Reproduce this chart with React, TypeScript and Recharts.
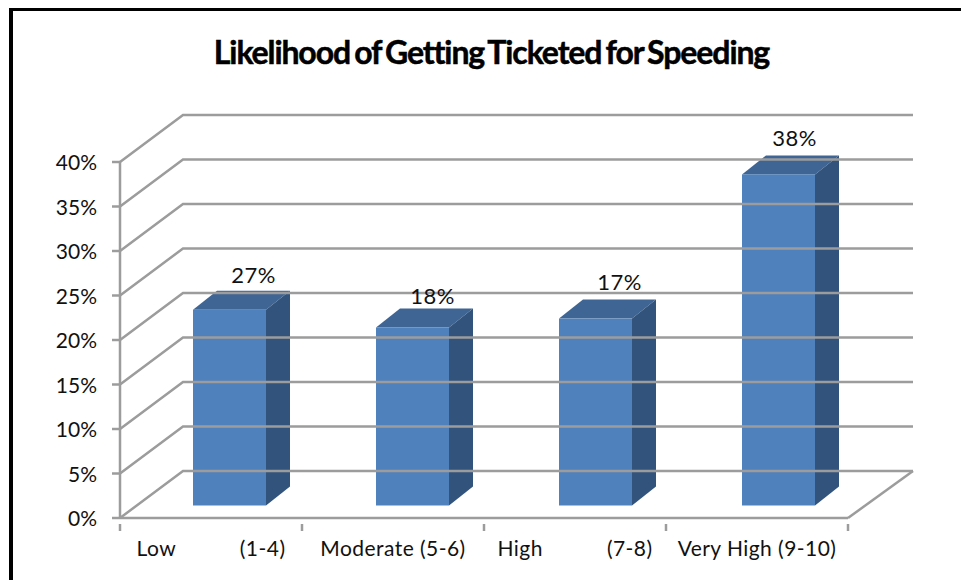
import { BarChart, Bar, XAxis, YAxis, LabelList } from "recharts";

const categories = ["Low           (1-4)", "Moderate (5-6)", "High           (7-8)", "Very High (9-10)"];
// bar heights as drawn in the picture, they do not agree with the printed labels
const barHeights = [22, 20, 21, 37.2];
const printedLabels = ["27%", "18%", "17%", "38%"];
const percentTicks = [0, 5, 10, 15, 20, 25, 30, 35, 40];

const tableData = categories.map((name, i) => ({ name, height: barHeights[i], label: printedLabels[i] }));

const FONT = "Lato, Carlito, sans-serif";
const GRID = "#9c9c9c";
const GRID_W = 2.5;
const FRONT = "#4f81bd";
const TOP = "#3e6594";
const SIDE = "#32537c";

const CHART_W = 961;
const CHART_H = 580;
const PLOT_LEFT = 120;
const PLOT_RIGHT = 848;
const STEP = (PLOT_RIGHT - PLOT_LEFT) / categories.length;

// 3D wall depth, and how far the bars sit in from the front of the floor
const WALL_DX = 63;
const WALL_DY = -47;
const BACK_RIGHT = 913;
const BAR_DX = 18;
const BAR_DRIFT = 1; // bars are spaced 1px wider than the axis ticks
const BAR_DY = -12.5;
const BAR_DEPTH_X = 24;
const BAR_DEPTH_Y = -19;

// small per-label shifts from the bar centre
const labelShiftX = [24, 20, 24, 16];
const labelShiftY = [-35, -32, -37, -36];

const PercentTick = ({ x, y, payload }: any) => {
  const left = x + 8;
  return (
    <g>
      <line x1={left - 8} y1={y} x2={left} y2={y} stroke={GRID} strokeWidth={GRID_W} />
      <polyline
        points={`${left},${y} ${left + WALL_DX},${y + WALL_DY} ${BACK_RIGHT},${y + WALL_DY}`}
        fill="none"
        stroke={GRID}
        strokeWidth={GRID_W}
      />
      {payload.value === 0 && (
        <line x1={PLOT_RIGHT} y1={y} x2={BACK_RIGHT} y2={y + WALL_DY} stroke={GRID} strokeWidth={GRID_W} />
      )}
      <text x={97} y={y + 8} textAnchor="end" fontFamily={FONT} fontSize={21} fill="#111">
        {payload.value}%
      </text>
    </g>
  );
};

const CategoryTick = ({ x, y, payload, index }: any) => (
  <g>
    <line x1={x - STEP / 2} y1={y} x2={x - STEP / 2} y2={y + 7} stroke={GRID} strokeWidth={GRID_W} />
    {index === categories.length - 1 && (
      <line x1={x + STEP / 2} y1={y} x2={x + STEP / 2} y2={y + 7} stroke={GRID} strokeWidth={GRID_W} />
    )}
    <text
      x={x}
      y={556}
      textAnchor="middle"
      fontFamily={FONT}
      fontSize={21}
      letterSpacing={0.45}
      fill="#111"
      style={{ whiteSpace: "pre" }}
    >
      {payload.value}
    </text>
  </g>
);

const Bar3D = ({ x, y, width, height, index }: any) => {
  const l = x + BAR_DX + index * BAR_DRIFT;
  const r = l + width;
  const t = y + BAR_DY;
  const b = t + height;
  return (
    <g>
      <path
        d={`M${l},${t} L${l + BAR_DEPTH_X},${t + BAR_DEPTH_Y} L${r + BAR_DEPTH_X},${t + BAR_DEPTH_Y} L${r},${t} Z`}
        fill={TOP}
      />
      <path
        d={`M${r},${t} L${r + BAR_DEPTH_X},${t + BAR_DEPTH_Y} L${r + BAR_DEPTH_X},${b + BAR_DEPTH_Y} L${r},${b} Z`}
        fill={SIDE}
      />
      <rect x={l} y={t} width={width} height={height} fill={FRONT} />
    </g>
  );
};

const PrintedLabel = ({ x, y, width, index }: any) => (
  <text
    x={x + BAR_DX + index * BAR_DRIFT + width / 2 + labelShiftX[index]}
    y={y + BAR_DY + labelShiftY[index] + 8}
    textAnchor="middle"
    fontFamily={FONT}
    fontSize={22}
    letterSpacing={0.5}
    fill="#111"
  >
    {printedLabels[index]}
  </text>
);

export default function App() {
  return (
    <div style={{ position: "absolute", left: 0, top: 0, width: CHART_W, height: CHART_H, overflow: "hidden", background: "#fff" }}>
      <div
        style={{
          position: "absolute",
          left: 9,
          top: 8,
          right: 0,
          bottom: 0,
          borderLeft: "4px solid #000",
          borderTop: "3px solid #000",
        }}
      />
      <BarChart
        width={CHART_W}
        height={CHART_H}
        data={tableData}
        margin={{ top: 162, right: CHART_W - PLOT_RIGHT, bottom: 0, left: 0 }}
        style={{ position: "absolute", left: 0, top: 0 }}
      >
        <text
          x={491.5}
          y={64}
          textAnchor="middle"
          fontFamily={FONT}
          fontSize={32}
          fontWeight={700}
          letterSpacing={-1.1}
          wordSpacing={-2.5}
          stroke="#000"
          strokeWidth={0.5}
          fill="#000"
        >
          Likelihood of Getting Ticketed for Speeding
        </text>
        <YAxis
          width={PLOT_LEFT}
          domain={[0, 40]}
          ticks={percentTicks}
          interval={0}
          tick={<PercentTick />}
          tickLine={false}
          axisLine={{ stroke: GRID, strokeWidth: GRID_W }}
        />
        <XAxis
          dataKey="name"
          height={62}
          interval={0}
          tick={<CategoryTick />}
          tickLine={false}
          tickMargin={0}
          axisLine={{ stroke: GRID, strokeWidth: GRID_W }}
        />
        <Bar dataKey="height" barSize={73} shape={<Bar3D />} isAnimationActive={false}>
          <LabelList dataKey="label" content={<PrintedLabel />} />
        </Bar>
      </BarChart>
    </div>
  );
}
